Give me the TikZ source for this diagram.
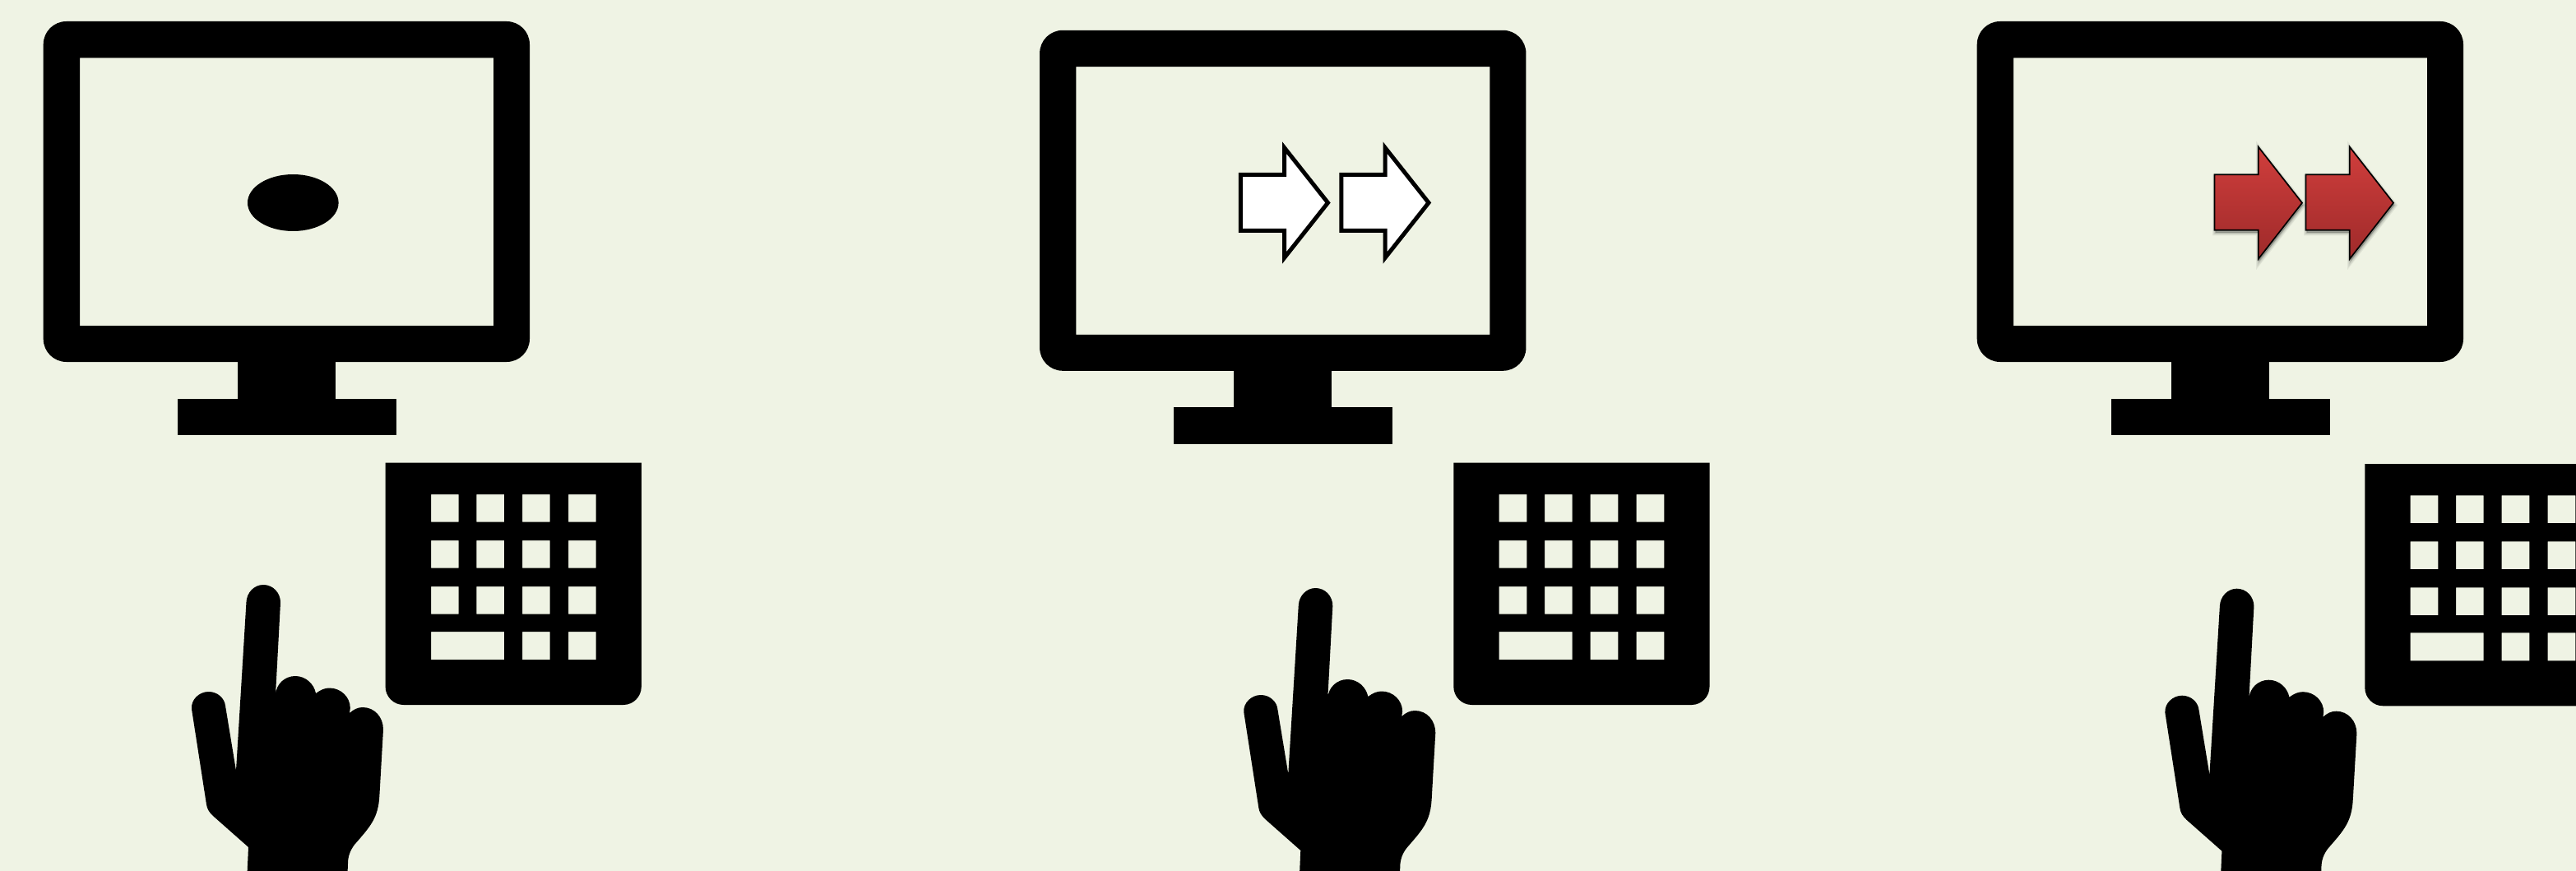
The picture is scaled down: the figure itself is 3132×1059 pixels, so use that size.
\documentclass[tikz,border=0pt]{standalone}
\definecolor{bgc}{RGB}{239,243,228}
\definecolor{redtop}{RGB}{208,62,60}
\definecolor{redbot}{RGB}{158,42,42}
\tikzset{
  monitor/.pic={
    \fill[black,even odd rule,rounded corners=28] (52.7,26) rectangle (644,440)
      [sharp corners] (97,70.3) rectangle (600,396);
    \fill[black] (289,438) rectangle (407.6,486);
    \fill[black] (215.6,484.6) rectangle (481.7,529);
  },
  keypad/.pic={
    \fill[black,even odd rule]
      (468.6,562.7) -- (779.8,562.7) -- (779.8,835)
      .. controls (779.8,847) and (770,857) .. (758,857) -- (490.6,857)
      .. controls (478.6,857) and (468.6,847) .. (468.6,835) -- cycle
      \foreach \ky in {601,657,713} {
        \foreach \kx in {524,579.4,635,691} { (\kx,\ky) rectangle +(33.6,33.7) }
      }
      (524,768) rectangle (613,802)
      (635,768) rectangle +(33.6,34)
      (691,768) rectangle +(33.6,34);
  },
  hand/.pic={
    \fill[black]
      (287,937) -- (299.5,732)
      .. controls (300,720.5) and (309,711) .. (320.2,711)
      .. controls (332,711) and (341.3,721) .. (341,733)
      -- (335,845)
      .. controls (335.5,832) and (346,822) .. (359,822)
      .. controls (372,822) and (382,832) .. (384,843)
      .. controls (389.5,839) and (394.5,836.5) .. (400.5,836.5)
      .. controls (414.5,836.5) and (425.8,847.5) .. (425.8,861)
      -- (425,867)
      .. controls (430,862.5) and (435,860) .. (441,860)
      .. controls (455.5,860) and (466,872) .. (466,887)
      -- (461.4,967)
      .. controls (460,995) and (450,1005) .. (431,1027)
      .. controls (426,1033.5) and (423,1041) .. (423,1050)
      -- (422,1075) -- (300,1075) -- (302,1030) -- (259,992)
      .. controls (254,987) and (252,984) .. (251,978)
      -- (233,862)
      .. controls (232,850.5) and (242.3,841) .. (253.6,841)
      .. controls (264.5,841) and (273,849) .. (274,858)
      -- cycle;
  },
  whitearrow/.pic={
    \draw[black,line width=5,fill=white,miter limit=10]
      (1508.3,212.5) -- (1561.5,212.5) -- (1561.5,179.5) -- (1614.5,246.5)
      -- (1561.5,313.5) -- (1561.5,280.3) -- (1508.3,280.3) -- cycle;
  },
  redarrow/.pic={
    \foreach \lw/\op in {7/0.06,4.5/0.08,2/0.10} {
      \fill[black,opacity=\op,line width=\lw,draw=black,draw opacity=\op]
        (2693.5,215.5) -- (2746.5,215.5) -- (2746.5,181.5) -- (2800,249.5)
        -- (2746.5,318) -- (2746.5,283) -- (2693.5,283) -- cycle;
    }
    \draw[black,line width=1.7,top color=redtop,bottom color=redbot,middle color=redtop!50!redbot]
      (2692.5,212.3) -- (2745.7,212.3) -- (2745.7,178.5) -- (2799,246.7)
      -- (2745.7,315) -- (2745.7,279.8) -- (2692.5,279.8) -- cycle;
  }
}
\begin{document}
\begin{tikzpicture}[x=1pt,y=-1pt]
  \clip (0,0) rectangle (3132,1059);
  \fill[bgc] (0,0) rectangle (3132,1059);
  % first group
  \pic at (0,0) {monitor};
  \fill[black] (356.3,246.5) ellipse [x radius=55.3,y radius=34.5];
  \pic at (0,0) {keypad};
  \pic at (0,0) {hand};
  % second group
  \pic at (1211.4,10.8) {monitor};
  \pic at (0,0) {whitearrow};
  \pic at (122.5,0) {whitearrow};
  \pic at (1298.7,0) {keypad};
  \pic at (1279.3,4) {hand};
  % third group
  \pic at (2351,0) {monitor};
  \pic at (0,0) {redarrow};
  \pic at (111,0) {redarrow};
  \pic at (2406.7,1.3) {keypad};
  \pic at (2399.4,4.7) {hand};
\end{tikzpicture}
\end{document}
